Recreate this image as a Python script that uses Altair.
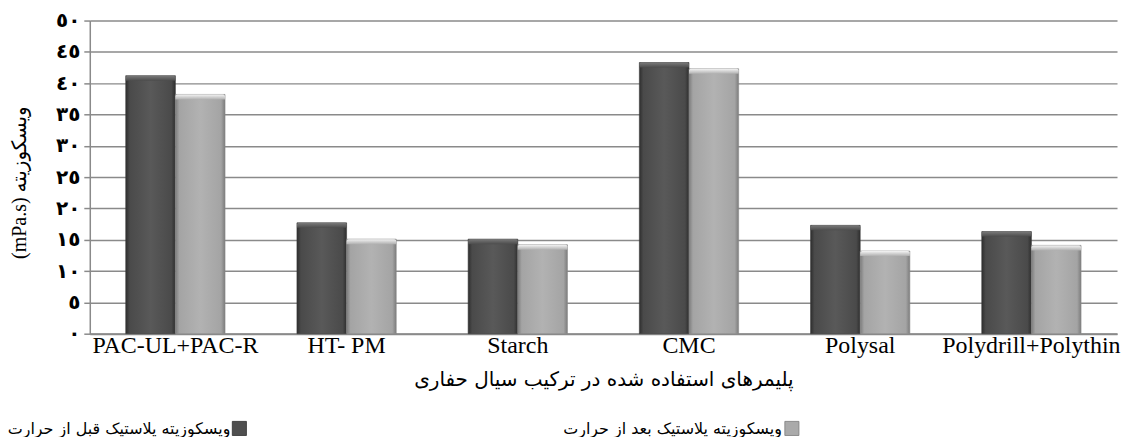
import altair as alt
import pandas as pd

categories = ["PAC-UL+PAC-R", "HT- PM", "Starch", "CMC", "Polysal", "Polydrill+Polythin"]
series_names = ["ویسکوزیته پلاستیک قبل از حرارت", "ویسکوزیته پلاستیک بعد از حرارت"]
before_heat = [41.2, 17.7, 15.1, 43.3, 17.3, 16.3]
after_heat = [38.2, 15.1, 14.2, 42.3, 13.2, 14.1]
y_tick_values = [0, 5, 10, 15, 20, 25, 30, 35, 40, 45, 50]
y_tick_labels = ["٠", "٥", "١٠", "١٥", "٢٠", "٢٥", "٣٠", "٣٥", "٤٠", "٤٥", "٥٠"]
x_title = "پلیمرهای استفاده شده در ترکیب سیال حفاری"
y_title = "(mPa.s) ویسکوزیته"

rows = []
for c, v in zip(categories, before_heat):
    rows.append({"cat": c, "series": series_names[0], "value": v})
for c, v in zip(categories, after_heat):
    rows.append({"cat": c, "series": series_names[1], "value": v})
df = pd.DataFrame(rows)

label_expr = ""
for v, l in zip(y_tick_values, y_tick_labels):
    label_expr += f"datum.value == {v} ? '{l}' : "
label_expr += "datum.label"

latin_font = "Liberation Serif"
arabic_font = "DejaVu Sans"

x_enc = alt.X(
    "cat:N",
    sort=categories,
    scale=alt.Scale(paddingInner=0.42, paddingOuter=0.21),
    axis=alt.Axis(
        title=x_title,
        titleFont=arabic_font,
        titleFontSize=20,
        titleFontWeight="normal",
        titleColor="black",
        titlePadding=12,
        labelFont=latin_font,
        labelFontSize=24,
        labelColor="black",
        labelAngle=0,
        labelPadding=0,
        labelOverlap=False,
        labelBound=False,
        ticks=False,
        domainColor="#8a8a8a",
        domainWidth=2,
    ),
)
y_enc = alt.Y(
    "value:Q",
    scale=alt.Scale(domain=[0, 50], nice=False),
    axis=alt.Axis(
        values=y_tick_values,
        labelExpr=label_expr,
        labelFont=arabic_font,
        labelFontSize=20,
        labelFontWeight="bold",
        labelColor="black",
        labelPadding=4,
        labelBaseline="middle",
        labelFlush=False,
        tickSize=6,
        tickColor="#8a8a8a",
        tickWidth=1.5,
        domainColor="#8a8a8a",
        domainWidth=1.5,
        gridColor="#8a8a8a",
        gridWidth=1.5,
        title=y_title,
        titleFont=f"{latin_font}, {arabic_font}",
        titleFontSize=20,
        titleFontWeight="normal",
        titleColor="black",
        titleX=-70,
        titleY=162,
        titleAlign="center",
        titleBaseline="middle",
    ),
)
xoff = alt.XOffset("series:N", scale=alt.Scale(domain=series_names))


def hgrad(edge, mid, center):
    return alt.Gradient(
        gradient="linear", x1=0, x2=1, y1=0, y2=0,
        stops=[
            alt.GradientStop(color=edge, offset=0),
            alt.GradientStop(color=mid, offset=0.08),
            alt.GradientStop(color=center, offset=0.5),
            alt.GradientStop(color=mid, offset=0.92),
            alt.GradientStop(color=edge, offset=1),
        ],
    )


def vgrad(top, bottom):
    return alt.Gradient(
        gradient="linear", x1=0, x2=0, y1=0, y2=1,
        stops=[alt.GradientStop(color=top, offset=0), alt.GradientStop(color=bottom, offset=1)],
    )


base = alt.Chart(df)
dark = base.transform_filter(alt.datum.series == series_names[0])
light = base.transform_filter(alt.datum.series == series_names[1])

bars_dark = dark.mark_bar(color=hgrad("#2e2e2e", "#4a4a4a", "#595959"), stroke="#3a3a3a", strokeWidth=0.6).encode(
    x=x_enc, xOffset=xoff, y=y_enc
)
bars_light = light.mark_bar(color=hgrad("#7c7c7c", "#a4a4a4", "#b2b2b2"), stroke="#8a8a8a", strokeWidth=0.6).encode(
    x=x_enc, xOffset=xoff, y=y_enc
)
cap_dark = dark.transform_calculate(cap="datum.value - 0.8").mark_bar(
    color=vgrad("#7a7a7a", "#4c4c4c"), cornerRadiusTopLeft=2, cornerRadiusTopRight=2
).encode(x=x_enc, xOffset=xoff, y=y_enc, y2="cap:Q")
cap_light = light.transform_calculate(cap="datum.value - 0.8").mark_bar(
    color=vgrad("#f4f4f4", "#b0b0b0"), cornerRadiusTopLeft=2, cornerRadiusTopRight=2
).encode(x=x_enc, xOffset=xoff, y=y_enc, y2="cap:Q")

# custom legend (text to the left of the swatch, as in the reference)
leg_df = pd.DataFrame({"series": series_names, "tx": [142, 695], "sx": [150, 704]})
leg_text = alt.Chart(leg_df).mark_text(
    align="right", baseline="middle", font=arabic_font, fontSize=16, color="black", dx=-1
).encode(text="series:N", x=alt.X("tx:Q", scale=None), y=alt.value(410))
leg_sw = alt.Chart(leg_df).mark_square(size=200, strokeWidth=0.8, opacity=1).encode(
    x=alt.X("sx:Q", scale=None),
    y=alt.value(409),
    fill=alt.Fill("series:N", scale=alt.Scale(domain=series_names, range=["#4f4f4f", "#aaaaaa"]), legend=None),
    stroke=alt.Stroke("series:N", scale=alt.Scale(domain=series_names, range=["#2e2e2e", "#7c7c7c"]), legend=None),
)

chart = alt.layer(bars_dark, bars_light, cap_dark, cap_light, leg_text, leg_sw).properties(
    width=1030,
    height=314,
    padding={"left": 82, "top": 12, "right": 4, "bottom": 103},
    autosize=alt.AutoSizeParams(type="none"),
    background="white",
).configure_view(stroke=None)

chart.save("out.html", embed_options={"renderer": "svg", "actions": False})
